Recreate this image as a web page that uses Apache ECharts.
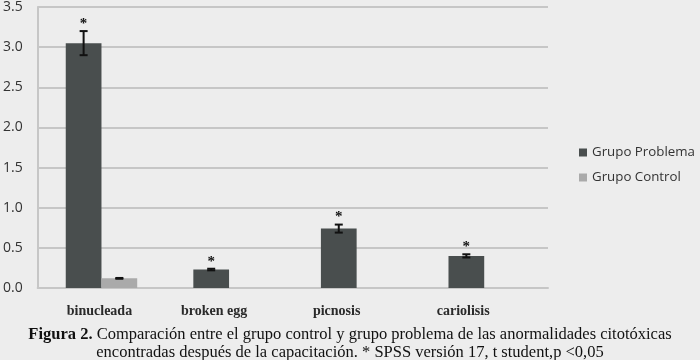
<!DOCTYPE html>
<html><head><meta charset="utf-8">
<script src="https://cdn.jsdelivr.net/npm/echarts@6/dist/echarts.min.js"></script>
<style>html,body{margin:0;padding:0;background:#ededed;}#c{width:700px;height:360px;}</style>
</head><body><div id="c"></div>
<script>
var categories = ['binucleada', 'broken egg', 'picnosis', 'cariolisis'];
var seriesNames = ['Grupo Problema', 'Grupo Control'];
var problemValues = [3.05, 0.23, 0.74, 0.40];
var controlValues = [0.12, 0, 0, 0];
var problemErr = [0.15, 0.01, 0.05, 0.02];
var controlErr = [0.005, 0, 0, 0];
var problemSig = [true, true, true, true];
var yTicks = [0, 0.5, 1.0, 1.5, 2.0, 2.5, 3.0, 3.5];

// label shift (styling) so category names sit where the original figure placed them
var labelShift = [-2, -15, -20, -21];

var chart = echarts.init(document.getElementById('c'), null, {renderer: 'canvas'});

function errSeries(vals, errs, sig, idx) {
  return {
    type: 'custom', name: seriesNames[idx] + ' err', silent: true, z: 5,
    data: vals.map(function (v, i) { return [i, v, errs[i], sig ? (sig[i] ? 1 : 0) : 0]; }),
    renderItem: function (params, api) {
      var ci = api.value(0), v = api.value(1), e = api.value(2), s = api.value(3);
      var sz = api.size([1, 0]);
      var bw = sz[0] * (1 - 0.44) / 2;
      var base = api.coord([ci, v]);
      var x = base[0] - bw / 2 + idx * bw;
      var top = api.coord([ci, v + e])[1];
      var bot = api.coord([ci, v - e])[1];
      var children = [];
      if (v > 0) {
        var st = {stroke: '#111', lineWidth: 2};
        children.push({type: 'line', shape: {x1: x, y1: top, x2: x, y2: bot}, style: st});
        children.push({type: 'line', shape: {x1: x - 4, y1: top, x2: x + 4, y2: top}, style: st});
        children.push({type: 'line', shape: {x1: x - 4, y1: bot, x2: x + 4, y2: bot}, style: st});
      }
      if (s) {
        children.push({type: 'text', style: {text: '*', x: x, y: top - 7, align: 'center', verticalAlign: 'middle',
          font: 'bold 15px "Liberation Serif"', fill: '#111'}});
      }
      return {type: 'group', children: children};
    }
  };
}

var richLabels = {};
labelShift.forEach(function (s, i) {
  richLabels['c' + i] = {fontFamily: 'Liberation Serif', fontSize: 14, fontWeight: 'bold', color: '#2a2a2a',
    padding: [0, s < 0 ? -2 * s : 0, 0, s > 0 ? 2 * s : 0]};
});

chart.setOption({
  backgroundColor: '#ededed',
  animation: false,
  grid: {left: 37, top: 7, width: 511, height: 281, containLabel: false},
  legend: {
    orient: 'vertical', left: 574, top: 141, itemWidth: 8, itemHeight: 8, itemGap: 12,
    icon: 'rect', data: seriesNames,
    textStyle: {fontFamily: 'Open Sans', fontSize: 13.3, color: '#333'}
  },
  title: {
    text: '{b|Figura 2.} Comparación entre el grupo control y grupo problema de las anormalidades citotóxicas\nencontradas después de la capacitación. * SPSS versión 17, t student,p <0,05',
    left: 'center', top: 321,
    textStyle: {
      fontFamily: 'Liberation Serif', fontSize: 16.5, fontWeight: 'normal', color: '#111', lineHeight: 18,
      rich: {b: {fontFamily: 'Liberation Serif', fontSize: 16.5, fontWeight: 'bold', color: '#111', lineHeight: 18}}
    }
  },
  xAxis: {
    type: 'category', data: categories,
    axisLine: {show: true, lineStyle: {color: '#c6c6c6', width: 2}},
    axisTick: {show: false},
    axisLabel: {margin: 16, rich: richLabels,
      formatter: function (v, i) { return '{c' + i + '|' + v + '}'; }}
  },
  yAxis: {
    type: 'value', min: 0, max: 3.5, interval: 0.5,
    axisLine: {show: true, lineStyle: {color: '#c6c6c6', width: 2}},
    axisTick: {show: false},
    splitLine: {lineStyle: {color: '#c6c6c6', width: 2}},
    axisLabel: {fontFamily: 'Open Sans', fontSize: 14, color: '#333', margin: 15,
      formatter: function (v) { return v.toFixed(1); }}
  },
  series: [
    {type: 'bar', name: seriesNames[0], data: problemValues, barGap: '0%', barCategoryGap: '44%',
      itemStyle: {color: '#494e4e'}},
    {type: 'bar', name: seriesNames[1], data: controlValues, barGap: '0%', barCategoryGap: '44%',
      itemStyle: {color: '#aaaaaa'}},
    errSeries(problemValues, problemErr, problemSig, 0),
    errSeries(controlValues, controlErr, null, 1)
  ]
});
</script></body></html>
